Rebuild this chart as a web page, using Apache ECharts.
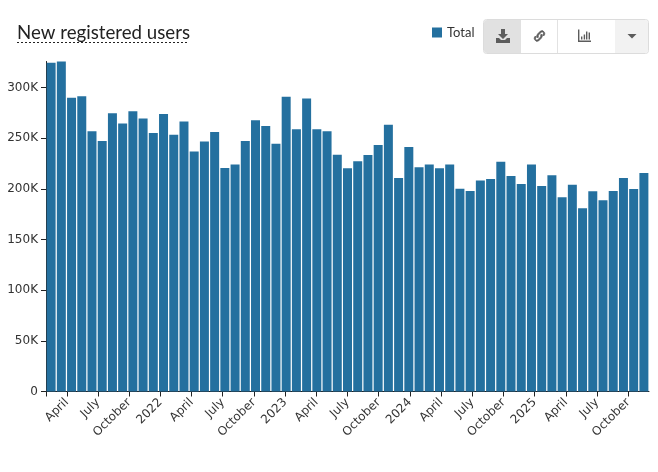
<!DOCTYPE html>
<html><head><meta charset="utf-8">
<script src="https://cdn.jsdelivr.net/npm/echarts@6/dist/echarts.min.js"></script>
<style>html,body{margin:0;padding:0;background:#fff}#c{width:658px;height:472px}</style>
</head><body><div id="c"></div>
<script>
const titleText = 'New registered users';
const seriesName = 'Total';
const totals = [324.5,325.8,290,291.6,257,247.2,274.8,264.7,276.8,269.6,255.1,273.9,253.5,266.6,237,246.9,256.1,220.6,224.2,247.2,267.9,262,244.5,290.9,258.8,289.3,259,257,233.7,220.3,227.2,233.4,243.3,263.3,210.7,241.3,221.3,224.2,220.3,224.2,200.1,197.9,208.4,209.7,226.8,212.7,204.8,224.2,202.8,213.4,191.9,204.1,180.8,197.6,188.7,197.9,210.7,199.8,215.6];
const bins = totals.map((_, i) => 'bin ' + (i + 1));
const tickLabels = ['', '', 'April','','', 'July','','', 'October','','', '2022','','', 'April','','', 'July','','', 'October','','', '2023','','', 'April','','', 'July','','', 'October','','', '2024','','', 'April','','', 'July','','', 'October','','', '2025','','', 'April','','', 'July','','', 'October','',''];
const yMax = 325.8;
const iconPaths = {
  download:'M5 0h4v5h3l-5 5-5-5h3zM0 9h3l2 2h4l2-2h3v5H0z',
  link:'M5 9a3 3 0 0 1 0-4l3-3a3 3 0 0 1 4 4l-1 1-1-1 1-1a1.6 1.6 0 0 0-2-2L6 6a1.6 1.6 0 0 0 0 2zM9 5a3 3 0 0 1 0 4l-3 3a3 3 0 0 1-4-4l1-1 1 1-1 1a1.6 1.6 0 0 0 2 2L8 8a1.6 1.6 0 0 0 0-2z',
  barsIcon:'M0 0h1.400v11h11.600v1.400H0zM3 7h1.400v3H3zM5.700 5h1.400v5H5.700zM8 2h1.400v8H8zM10.600 3h1.400v7h-1.400z',
  caret:'M0 0h9L4.500 4.500z'
};
Object.keys(iconPaths).forEach(k => echarts.graphic.registerShape(k, echarts.graphic.extendPath(iconPaths[k], {})));
const icon = (type, x, y, fill, lineWidth) => ({type, x, y, style:{fill, stroke:lineWidth?fill:null, lineWidth:lineWidth||0}, silent:true});

const chart = echarts.init(document.getElementById('c'), null, {renderer:'canvas'});
const barColor = '#24709f';
chart.setOption({
  animation:false,
  backgroundColor:'#fff',
  title:{text:titleText,left:17,top:23,padding:0,textStyle:{fontFamily:'Lato',fontSize:18.7,fontWeight:'normal',color:'#222'}},
  legend:{left:432,top:26,padding:0,itemWidth:10,itemHeight:10,icon:'rect',itemGap:4,data:[seriesName],
    textStyle:{fontFamily:'Lato',fontSize:13,color:'#333'},selectedMode:false},
  grid:{left:46,right:9,top:61.5,bottom:80.5,containLabel:false},
  xAxis:[
    {type:'category',data:bins,boundaryGap:true,axisLine:{show:false},axisTick:{show:false},axisLabel:{show:false},splitLine:{show:false}},
    {type:'category',position:'bottom',data:tickLabels,boundaryGap:false,
      axisLine:{show:true,onZero:false,lineStyle:{color:'#222',width:1}},
      axisTick:{show:true,length:5,lineStyle:{color:'#222'},interval:(i,v)=>i===0||v!==''},
      axisLabel:{interval:0,rotate:45,margin:9,fontFamily:'DejaVu Sans',fontSize:12,color:'#333',hideOverlap:false},
      splitLine:{show:false}}
  ],
  yAxis:{type:'value',min:0,max:yMax,interval:50,
    axisLine:{show:true,lineStyle:{color:'#222'}},
    axisTick:{show:true,length:5,lineStyle:{color:'#222'}},
    axisLabel:{fontFamily:'DejaVu Sans',fontSize:12,color:'#333',margin:8,showMaxLabel:false,formatter:v=>v===0?'0':v+'K'},
    splitLine:{show:false}},
  series:[{name:seriesName,type:'bar',xAxisIndex:0,data:totals,barCategoryGap:'12%',itemStyle:{color:barColor},silent:true}],
  graphic:[
    {type:'line',shape:{x1:17,y1:42.5,x2:189,y2:42.5},style:{stroke:'#222',lineWidth:1,lineDash:[2,2]},silent:true},
    {type:'rect',shape:{x:483.5,y:19.5,width:165,height:34,r:3},style:{fill:'#fff',stroke:'#dcdcdc',lineWidth:1},silent:true},
    {type:'rect',shape:{x:484,y:20,width:37,height:33,r:[3,0,0,3]},style:{fill:'#e1e1e1'},silent:true},
    {type:'rect',shape:{x:615,y:20,width:33,height:33,r:[0,3,3,0]},style:{fill:'#f2f2f2'},silent:true},
    {type:'line',shape:{x1:557.5,y1:20,x2:557.5,y2:53},style:{stroke:'#e2e2e2',lineWidth:1},silent:true},
    icon('download',496,29,'#5c5c5c'),
    icon('link',532.500,29,'#5c5c5c',0.7),
    icon('barsIcon',578,29.500,'#5c5c5c'),
    icon('caret',627.500,34,'#5c5c5c')
  ]
});
</script></body></html>
